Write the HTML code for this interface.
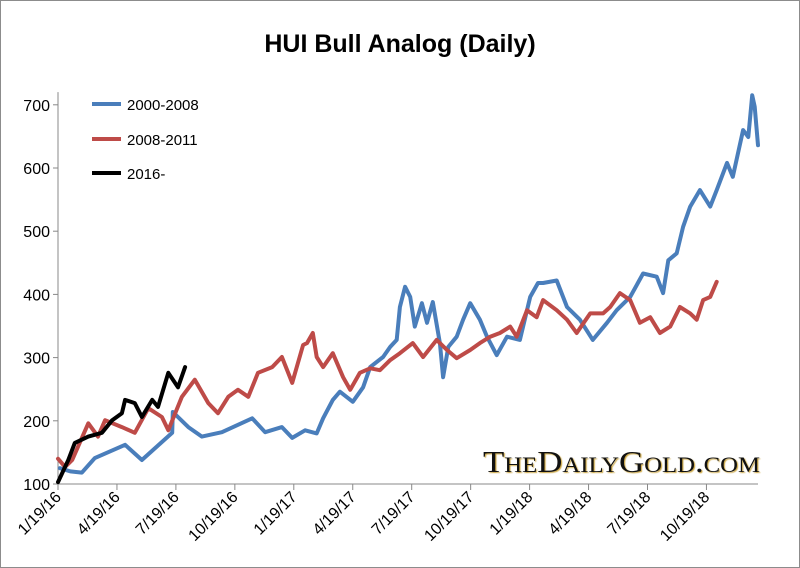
<!DOCTYPE html>
<html><head><meta charset="utf-8">
<style>
body{margin:0;background:#fff;}
svg{display:block;font-family:"Liberation Sans",sans-serif;}
</style></head>
<body>
<svg id="chart" width="800" height="568">
  <rect x="0.5" y="0.5" width="799" height="567" fill="#fff" stroke="#8c8c8c"/>
  <text x="400" y="52" text-anchor="middle" font-size="25" font-weight="bold" fill="#000">HUI Bull Analog (Daily)</text>
  <g id="axes"></g>
  <g id="series"></g>
  <g>
    <line x1="92" y1="104" x2="121" y2="104" stroke="#4a7ebb" stroke-width="4"/>
    <text x="127" y="110" font-size="15">2000-2008</text>
    <line x1="92" y1="139" x2="121" y2="139" stroke="#be4b48" stroke-width="4"/>
    <text x="127" y="145" font-size="15">2008-2011</text>
    <line x1="92" y1="173" x2="121" y2="173" stroke="#000" stroke-width="4"/>
    <text x="127" y="179" font-size="15">2016-</text>
  </g>
  <text x="483" y="472" textLength="277" lengthAdjust="spacingAndGlyphs" font-family="'Liberation Serif',serif" font-size="31" fill="#111" style="font-variant:small-caps;text-shadow:1px 1px 1px #c9a23a">TheDailyGold.com</text>
</svg>
<script>
const yTicks=[100,200,300,400,500,600,700];
const xTickLabels=["1/19/16","4/19/16","7/19/16","10/19/16","1/19/17","4/19/17","7/19/17","10/19/17","1/19/18","4/19/18","7/19/18","10/19/18"];
const blueDays=[3,19,37,57,104,130,177,178,202,223,254,301,321,347,363,383,401,411,426,437,457,473,484,504,515,525,530,538,546,553,564,572,581,592,597,605,618,628,639,654,665,680,696,716,732,744,752,773,789,809,829,851,866,887,907,928,938,946,959,969,980,995,1011,1021,1037,1046,1062,1070,1076,1080,1085];
const blueVals=[125,120,118,141,162,138,181,214,190,175,182,204,182,190,173,185,180,204,233,246,230,253,285,301,317,328,380,412,396,349,386,355,388,323,269,317,333,360,386,360,333,304,333,328,396,418,418,422,380,360,328,355,375,396,433,428,402,454,465,507,539,565,539,565,608,586,660,649,715,697,636];
const redDays=[0,11,22,47,62,73,99,119,140,161,171,192,212,233,248,264,279,295,310,332,347,363,380,386,395,401,411,426,442,453,468,484,499,515,530,550,566,587,603,618,639,654,670,685,701,711,727,742,752,773,789,804,825,845,856,871,887,902,918,933,949,964,980,990,1000,1011,1021];
const redVals=[140,127,138,196,175,201,190,181,220,206,185,238,265,228,212,238,249,238,276,285,301,260,320,323,339,301,285,307,269,249,276,283,280,296,307,323,301,328,312,299,312,323,333,339,349,333,375,364,391,375,360,339,370,370,380,402,391,355,364,339,349,380,370,360,391,396,420];
const blackDays=[0,16,26,47,68,84,99,104,119,130,146,155,171,186,197];
const blackVals=[103,138,165,175,181,201,212,233,228,206,233,222,276,253,285];

const NS="http://www.w3.org/2000/svg";
const x0=58, pxPerDay=58.9/91.3, yBase=484, pxPerUnit=0.632;
function xs(d){return x0+d*pxPerDay;}
function ys(v){return yBase-(v-100)*pxPerUnit;}
function mk(tag,attrs,parent){const e=document.createElementNS(NS,tag);for(const k in attrs)e.setAttribute(k,attrs[k]);parent.appendChild(e);return e;}
const axes=document.getElementById('axes');
const yAxis=mk('line',{x1:x0,y1:ys(720),x2:x0,y2:yBase,stroke:'#888','stroke-width':1},axes);


const xAxis=mk('line',{x1:x0,y1:yBase,x2:758,y2:yBase,stroke:'#888','stroke-width':1},axes);


yTicks.forEach(v=>{
  const t=mk('line',{x1:x0-5,y1:ys(v),x2:x0,y2:ys(v),stroke:'#888'},axes);
  
  
  const l=mk('text',{x:x0-8,y:ys(v)+6,'text-anchor':'end','font-size':'16'},axes);
  
  
  l.textContent=v;
});
xTickLabels.forEach((s,i)=>{
  const x=x0+i*58.95;
  const t=mk('line',{x1:x,y1:yBase,x2:x,y2:yBase+6,stroke:'#888'},axes);
  
  
  const l=mk('text',{x:x+4,y:yBase+14,'text-anchor':'end','font-size':'16',transform:`rotate(-45 ${x+4} ${yBase+14})`},axes);
  
  
  l.textContent=s;
});
const g=document.getElementById('series');
function line(days,vals,color,name){
  const p=days.map((d,i)=>(i?'L':'M')+xs(d).toFixed(1)+' '+ys(vals[i]).toFixed(1)).join(' ');
  const e=mk('path',{d:p,fill:'none',stroke:color,'stroke-width':4,'stroke-linejoin':'round','stroke-linecap':'round'},g);
  
  
}
line(blueDays,blueVals,'#4a7ebb','series-2000-2008');
line(redDays,redVals,'#be4b48','series-2008-2011');
line(blackDays,blackVals,'#000','series-2016');
</script>
</body></html>
